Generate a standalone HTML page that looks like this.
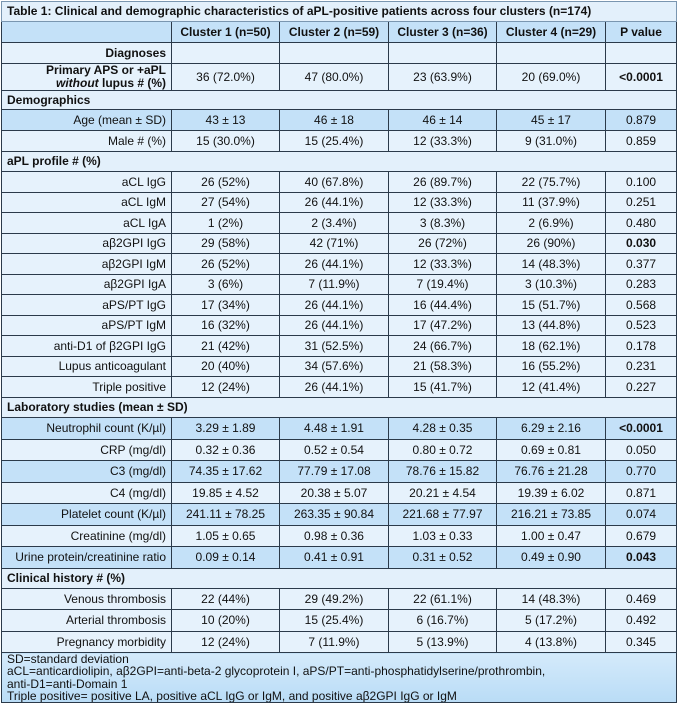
<!DOCTYPE html>
<html><head><meta charset="utf-8">
<style>
html,body{margin:0;padding:0;background:#fff;width:678px;height:706px;overflow:hidden}
table{position:absolute;left:1px;top:1px;border-collapse:collapse;table-layout:fixed;width:675px;font-family:"Liberation Sans",Arial,sans-serif;font-size:12px;color:#111}
td{border:1px solid #2b3a4a;padding:0 5px;text-align:center;white-space:nowrap;overflow:hidden;line-height:13px}
td.l{text-align:right}
tr.sec td{text-align:left;font-weight:bold;background:#e3f0fb}
tr.b td{background:#c4e1f8}
tr.w td{background:#e6f2fc}
tr.t td{text-align:left;font-weight:bold;background:#e3f0fb;border-color:#7a96b0}
tr.h td{font-weight:bold;background:#c4e1f8}
tr.f td{text-align:left;background:linear-gradient(#d4eafb,#b9dcf6);line-height:12.3px;vertical-align:top;padding-top:0}
.bd{font-weight:bold}
</style></head><body>
<table>
<colgroup><col style="width:170px"><col style="width:108px"><col style="width:109px"><col style="width:108px"><col style="width:109px"><col style="width:71px"></colgroup>
<tr class="t" style="height:20px"><td colspan="6">Table 1: Clinical and demographic characteristics of aPL-positive patients across four clusters (n=174)</td></tr>
<tr class="h" style="height:21px"><td></td><td>Cluster 1 (n=50)</td><td>Cluster 2 (n=59)</td><td>Cluster 3 (n=36)</td><td>Cluster 4 (n=29)</td><td>P value</td></tr>
<tr class="w" style="height:21px"><td class="l bd">Diagnoses</td><td></td><td></td><td></td><td></td><td></td></tr>
<tr class="w" style="height:27px"><td class="l bd">Primary APS or +aPL<br><i>without</i> lupus # (%)</td><td>36 (72.0%)</td><td>47 (80.0%)</td><td>23 (63.9%)</td><td>20 (69.0%)</td><td class="bd">&lt;0.0001</td></tr>
<tr class="sec" style="height:19px"><td colspan="6">Demographics</td></tr>
<tr class="b" style="height:21px"><td class="l">Age (mean ± SD)</td><td>43 ± 13</td><td>46 ± 18</td><td>46 ± 14</td><td>45 ± 17</td><td>0.879</td></tr>
<tr class="w" style="height:21px"><td class="l">Male # (%)</td><td>15 (30.0%)</td><td>15 (25.4%)</td><td>12 (33.3%)</td><td>9 (31.0%)</td><td>0.859</td></tr>
<tr class="sec" style="height:20px"><td colspan="6">aPL profile # (%)</td></tr>
<tr class="w" style="height:21px"><td class="l">aCL IgG</td><td>26 (52%)</td><td>40 (67.8%)</td><td>26 (89.7%)</td><td>22 (75.7%)</td><td>0.100</td></tr>
<tr class="w" style="height:20px"><td class="l">aCL IgM</td><td>27 (54%)</td><td>26 (44.1%)</td><td>12 (33.3%)</td><td>11 (37.9%)</td><td>0.251</td></tr>
<tr class="w" style="height:21px"><td class="l">aCL IgA</td><td>1 (2%)</td><td>2 (3.4%)</td><td>3 (8.3%)</td><td>2 (6.9%)</td><td>0.480</td></tr>
<tr class="w" style="height:20px"><td class="l">aβ2GPI IgG</td><td>29 (58%)</td><td>42 (71%)</td><td>26 (72%)</td><td>26 (90%)</td><td class="bd">0.030</td></tr>
<tr class="w" style="height:21px"><td class="l">aβ2GPI IgM</td><td>26 (52%)</td><td>26 (44.1%)</td><td>12 (33.3%)</td><td>14 (48.3%)</td><td>0.377</td></tr>
<tr class="w" style="height:20px"><td class="l">aβ2GPI IgA</td><td>3 (6%)</td><td>7 (11.9%)</td><td>7 (19.4%)</td><td>3 (10.3%)</td><td>0.283</td></tr>
<tr class="w" style="height:21px"><td class="l">aPS/PT IgG</td><td>17 (34%)</td><td>26 (44.1%)</td><td>16 (44.4%)</td><td>15 (51.7%)</td><td>0.568</td></tr>
<tr class="w" style="height:20px"><td class="l">aPS/PT IgM</td><td>16 (32%)</td><td>26 (44.1%)</td><td>17 (47.2%)</td><td>13 (44.8%)</td><td>0.523</td></tr>
<tr class="w" style="height:21px"><td class="l">anti-D1 of β2GPI IgG</td><td>21 (42%)</td><td>31 (52.5%)</td><td>24 (66.7%)</td><td>18 (62.1%)</td><td>0.178</td></tr>
<tr class="w" style="height:20px"><td class="l">Lupus anticoagulant</td><td>20 (40%)</td><td>34 (57.6%)</td><td>21 (58.3%)</td><td>16 (55.2%)</td><td>0.231</td></tr>
<tr class="w" style="height:21px"><td class="l">Triple positive</td><td>12 (24%)</td><td>26 (44.1%)</td><td>15 (41.7%)</td><td>12 (41.4%)</td><td>0.227</td></tr>
<tr class="sec" style="height:20px"><td colspan="6">Laboratory studies (mean ± SD)</td></tr>
<tr class="b" style="height:22px"><td class="l">Neutrophil count (K/µl)</td><td>3.29 ± 1.89</td><td>4.48 ± 1.91</td><td>4.28 ± 0.35</td><td>6.29 ± 2.16</td><td class="bd">&lt;0.0001</td></tr>
<tr class="w" style="height:21px"><td class="l">CRP (mg/dl)</td><td>0.32 ± 0.36</td><td>0.52 ± 0.54</td><td>0.80 ± 0.72</td><td>0.69 ± 0.81</td><td>0.050</td></tr>
<tr class="b" style="height:22px"><td class="l">C3 (mg/dl)</td><td>74.35 ± 17.62</td><td>77.79 ± 17.08</td><td>78.76 ± 15.82</td><td>76.76 ± 21.28</td><td>0.770</td></tr>
<tr class="w" style="height:21px"><td class="l">C4 (mg/dl)</td><td>19.85 ± 4.52</td><td>20.38 ± 5.07</td><td>20.21 ± 4.54</td><td>19.39 ± 6.02</td><td>0.871</td></tr>
<tr class="b" style="height:22px"><td class="l">Platelet count (K/µl)</td><td>241.11 ± 78.25</td><td>263.35 ± 90.84</td><td>221.68 ± 77.97</td><td>216.21 ± 73.85</td><td>0.074</td></tr>
<tr class="w" style="height:21px"><td class="l">Creatinine (mg/dl)</td><td>1.05 ± 0.65</td><td>0.98 ± 0.36</td><td>1.03 ± 0.33</td><td>1.00 ± 0.47</td><td>0.679</td></tr>
<tr class="b" style="height:22px"><td class="l">Urine protein/creatinine ratio</td><td>0.09 ± 0.14</td><td>0.41 ± 0.91</td><td>0.31 ± 0.52</td><td>0.49 ± 0.90</td><td class="bd">0.043</td></tr>
<tr class="sec" style="height:20px"><td colspan="6">Clinical history # (%)</td></tr>
<tr class="w" style="height:21px"><td class="l">Venous thrombosis</td><td>22 (44%)</td><td>29 (49.2%)</td><td>22 (61.1%)</td><td>14 (48.3%)</td><td>0.469</td></tr>
<tr class="w" style="height:22px"><td class="l">Arterial thrombosis</td><td>10 (20%)</td><td>15 (25.4%)</td><td>6 (16.7%)</td><td>5 (17.2%)</td><td>0.492</td></tr>
<tr class="w" style="height:21px"><td class="l">Pregnancy morbidity</td><td>12 (24%)</td><td>7 (11.9%)</td><td>5 (13.9%)</td><td>4 (13.8%)</td><td>0.345</td></tr>
<tr class="f" style="height:50px"><td colspan="6">SD=standard deviation<br>aCL=anticardiolipin, aβ2GPI=anti-beta-2 glycoprotein I, aPS/PT=anti-phosphatidylserine/prothrombin,<br>anti-D1=anti-Domain 1<br>Triple positive= positive LA, positive aCL IgG or IgM, and positive aβ2GPI IgG or IgM</td></tr>
</table>
</body></html>
